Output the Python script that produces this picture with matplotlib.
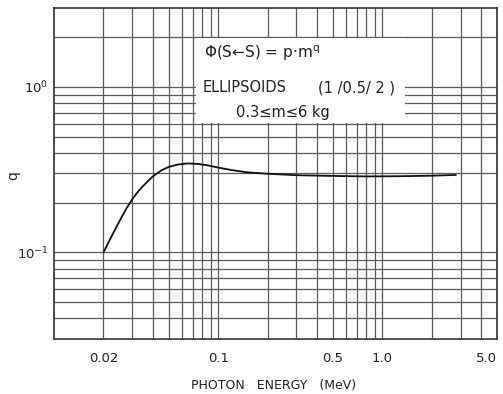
import matplotlib
matplotlib.use("Agg")
from matplotlib import pyplot as plt
from matplotlib.patches import Rectangle

# exponent q of phi(S<-S) = p*m^q versus photon energy
energy = [0.02, 0.0225, 0.025, 0.0275, 0.03, 0.0325, 0.035, 0.04, 0.045, 0.05, 0.057,
          0.065, 0.075, 0.085, 0.1, 0.12, 0.15, 0.2, 0.3, 0.5, 0.8, 1.3, 2.0, 2.8]
q = [0.100, 0.126, 0.154, 0.183, 0.21, 0.233, 0.253, 0.288, 0.313, 0.329, 0.340,
     0.345, 0.343, 0.337, 0.326, 0.315, 0.305, 0.299, 0.293, 0.29, 0.288, 0.289, 0.291, 0.294]

# log paper lines and the few labelled ones
x_lines = [0.02, 0.03, 0.04, 0.05, 0.06, 0.07, 0.08, 0.09,
           0.1, 0.2, 0.3, 0.4, 0.5, 0.6, 0.7, 0.8, 0.9,
           1.0, 2.0, 3.0, 4.0, 5.0]
x_labels = {0.02: "0.02", 0.1: "0.1", 0.5: "0.5", 1.0: "1.0", 5.0: "5.0"}
y_lines = [0.04, 0.05, 0.06, 0.07, 0.08, 0.09,
           0.1, 0.2, 0.3, 0.4, 0.5, 0.6, 0.7, 0.8, 0.9, 1.0, 2.0]
y_labels = {0.1: r"$10^{-1}$", 1.0: r"$10^{0}$"}

ink = "#222222"
grid_col = "#5a5a5a"

fig = plt.figure(figsize=(5.03, 3.94), dpi=100)
ax = fig.add_axes([54/503, 1 - 339/394, 443/503, 331/394])
ax.set_xscale("log")
ax.set_yscale("log")
ax.set_xlim(0.01, 5.0)
ax.set_ylim(0.03, 3.0)

ax.set_xticks(x_lines, [x_labels.get(v, "") for v in x_lines])
ax.set_yticks(y_lines, [y_labels.get(v, "") for v in y_lines])
ax.minorticks_off()
ax.tick_params(axis="both", length=0, colors=ink, labelsize=9.5)
ax.tick_params(axis="x", pad=9)
ax.tick_params(axis="y", pad=4)
ax.get_xticklabels()[-1].set_horizontalalignment("right")
ax.grid(True, color=grid_col, lw=0.9)
for sp in ax.spines.values():
    sp.set_color("#333333")
    sp.set_linewidth(1.2)

# white label box that blanks out the paper grid
ax.add_patch(Rectangle((0.0728, 0.607), 1.37 - 0.0728, 1.975 - 0.607,
                       facecolor="white", edgecolor="none", zorder=2))

ax.plot(energy, q, color="#111111", lw=1.3, zorder=3)

fig.text(204/503, 1 - 53/394, "Φ(S←S) = p·m$^{\\mathregular{q}}$",
         fontsize=11, color=ink, ha="left", va="center")
fig.text(203/503, 1 - 88/394, "ELLIPSOIDS", fontsize=10.5, color=ink, ha="left", va="center")
fig.text(395/503, 1 - 88/394, "(1 /0.5/ 2 )", fontsize=10.5, color=ink, ha="right", va="center")
fig.text(236/503, 1 - 113/394, "0.3≤m≤6 kg", fontsize=10.5, color=ink,
         ha="left", va="center")

fig.text(274/503, 1 - 385/394, "PHOTON   ENERGY   (MeV)", fontsize=9, color=ink,
         ha="center", va="center")
fig.text(13/503, 1 - 176/394, "q", fontsize=10, color=ink, rotation=90,
         ha="center", va="center")

fig.savefig("out.png", dpi=100, facecolor="white")
